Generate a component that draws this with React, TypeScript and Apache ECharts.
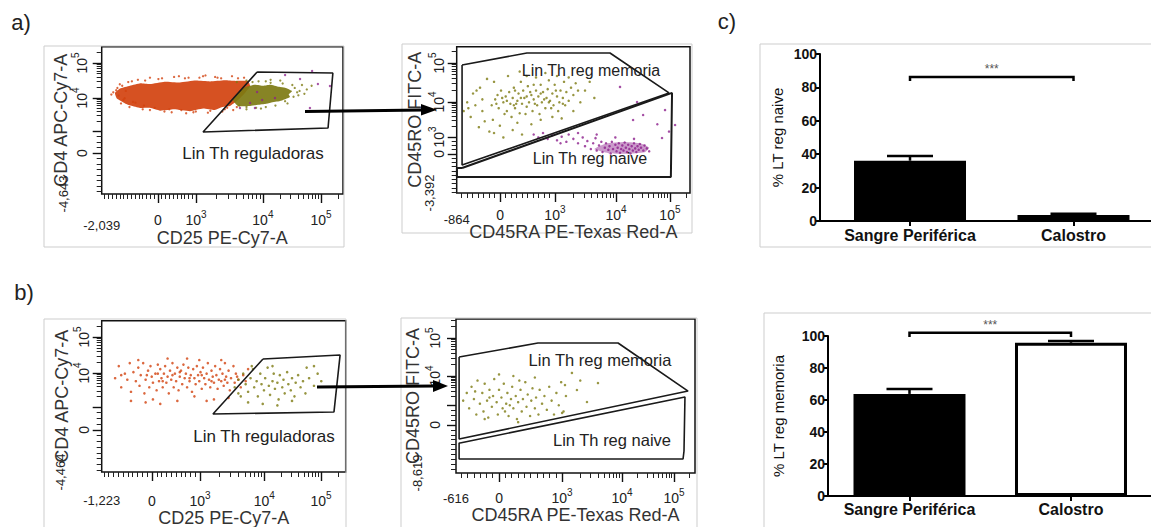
import React, { useEffect, useRef } from "react";
import * as echarts from "echarts";

const FONT = '"Liberation Sans", Arial, Helvetica, sans-serif';
const RED = "#d2420f";
const OLIVE = "#7d7a12";
const PURPLE = "#8c1f8c";

// ---- flow cytometry display axes (display channels 0..1000) ----
const A1_X = { min: "-2,039", zero: 233, d3: 391, d4: 668, d5: 909, show3: true };
const A1_Y = { min: "-4,643", zero: 278, d3: 428, d4: 652, d5: 889, show3: false };
const A2_X = { min: "-864", zero: 186, d3: 421, d4: 683, d5: 914, show3: true };
const A2_Y = { min: "-3,392", zero: 267, d3: 383, d4: 622, d5: 889, show3: true };
const B1_X = { min: "-1,223", zero: 206, d3: 403, d4: 666, d5: 899, show3: true };
const B1_Y = { min: "-4,464", zero: 278, d3: 430, d4: 654, d5: 892, show3: false };
const B2_X = { min: "-616", zero: 180, d3: 444, d4: 695, d5: 912, show3: true };
const B2_Y = { min: "-8,619", zero: 312, d3: 440, d4: 630, d5: 877, show3: false };

// ---- gates ----
const A1_GATE = [[644, 828], [958, 821], [938, 448], [420, 421], [644, 828]];
const A2_MEM = [[23, 875], [301, 957], [657, 957], [910, 684], [23, 191], [23, 875]];
const A2_NAIVE = [[23, 171], [923, 684], [918, 109], [1, 109], [1, 171], [23, 171]];
const B1_GATE = [[661, 747], [977, 773], [952, 397], [456, 383], [661, 747]];
const B2_MEM = [[13, 753], [343, 844], [678, 844], [971, 532], [13, 221], [13, 753]];
const B2_NAIVE = [[17, 195], [958, 494], [954, 143], [950, 91], [13, 91], [13, 195], [17, 195]];

// ---- events ----
const A1_RED_CLOUD = [[55, 686], [76, 716], [117, 735], [160, 752], [200, 746], [260, 762], [324, 757], [390, 770], [449, 764], [510, 772], [552, 768], [606, 767], [615, 733], [594, 686], [565, 638], [531, 597], [500, 590], [469, 570], [420, 580], [366, 562], [300, 575], [242, 566], [200, 585], [159, 584], [120, 600], [97, 615], [63, 648]];
const A1_RED_DOTS = [[48, 690], [60, 705], [70, 668], [85, 735], [95, 650], [110, 760], [130, 625], [150, 775], [175, 600], [200, 790], [220, 585], [250, 785], [280, 575], [300, 795], [330, 570], [360, 790], [390, 560], [420, 800], [450, 565], [480, 790], [510, 575], [540, 800], [520, 585], [560, 590], [590, 790], [100, 700], [140, 620], [260, 560], [380, 555], [470, 795], [65, 720], [90, 640], [200, 570], [320, 800], [430, 805], [40, 675], [75, 745], [125, 765], [180, 770], [235, 780], [345, 785], [405, 790], [495, 785], [565, 785], [80, 615], [115, 590], [170, 575], [290, 555], [350, 548], [440, 552], [500, 560], [545, 570]];
const A1_GREEN_CLOUD = [[544, 638], [560, 680], [594, 725], [635, 742], [670, 735], [698, 742], [735, 728], [760, 722], [789, 699], [775, 675], [780, 659], [739, 631], [700, 620], [677, 611], [640, 604], [615, 597], [565, 597]];
const A1_GREEN_DOTS = [[560, 760], [600, 770], [650, 765], [700, 755], [750, 750], [800, 720], [810, 690], [795, 660], [760, 630], [720, 600], [680, 590], [640, 585], [600, 590], [570, 600], [820, 700], [830, 740], [600, 575], [700, 775], [740, 770], [850, 710], [790, 740], [815, 670], [770, 615], [660, 580], [625, 760], [680, 765], [840, 680], [870, 735]];
const A1_PURPLE_DOTS = [[644, 692], [665, 638], [615, 618], [760, 808], [822, 781], [872, 835], [896, 747], [863, 584], [573, 584], [635, 584], [946, 733], [718, 652]];

const A2_GREEN_DOTS = [[150, 600], [165, 640], [180, 580], [190, 700], [200, 620], [210, 660], [215, 560], [225, 690], [230, 610], [240, 650], [245, 720], [250, 580], [260, 630], [265, 680], [270, 545], [280, 610], [285, 700], [290, 650], [300, 590], [305, 730], [310, 620], [320, 670], [325, 560], [330, 640], [340, 700], [345, 600], [350, 660], [360, 740], [365, 620], [370, 690], [380, 580], [385, 650], [390, 710], [400, 630], [410, 680], [415, 600], [420, 740], [430, 660], [440, 620], [445, 700], [455, 650], [460, 760], [470, 690], [480, 630], [490, 720], [500, 670], [510, 750], [520, 700], [175, 670], [205, 540], [235, 520], [275, 760], [295, 540], [355, 540], [395, 770], [435, 560], [195, 650], [255, 610], [315, 690], [375, 640], [465, 600], [405, 580], [30, 560], [45, 620], [60, 520], [70, 680], [80, 600], [95, 450], [100, 720], [110, 560], [120, 490], [130, 780], [140, 420], [155, 500], [160, 760], [185, 460], [220, 800], [240, 430], [260, 480], [270, 830], [300, 800], [320, 470], [340, 790], [360, 500], [380, 820], [410, 520], [430, 800], [450, 510], [480, 790], [500, 560], [530, 620], [550, 700], [570, 760], [590, 650], [110, 640], [85, 700], [50, 580], [200, 380], [280, 400], [160, 410], [170, 610], [215, 630], [250, 700], [275, 650], [335, 610], [360, 680], [395, 620], [425, 700], [455, 610], [300, 660], [245, 600], [330, 740]];
const A2_PURPLE_CORE = [[590, 300], [640, 338], [720, 348], [790, 338], [825, 310], [805, 278], [730, 268], [650, 272]];
const A2_PURPLE_DOTS = [[330, 400], [350, 380], [370, 410], [390, 370], [410, 395], [430, 360], [450, 385], [470, 350], [480, 400], [500, 370], [520, 340], [540, 380], [550, 320], [560, 355], [575, 300], [585, 340], [595, 375], [600, 290], [610, 325], [620, 350], [625, 280], [635, 310], [640, 340], [650, 295], [655, 320], [660, 270], [665, 350], [670, 300], [680, 330], [685, 285], [690, 310], [695, 340], [700, 275], [705, 300], [710, 325], [715, 290], [720, 345], [725, 310], [730, 280], [735, 330], [740, 300], [745, 270], [750, 320], [755, 290], [760, 340], [765, 305], [770, 280], [775, 320], [780, 295], [785, 335], [790, 310], [800, 290], [805, 325], [815, 305], [825, 285], [600, 400], [680, 380], [760, 370], [520, 410], [445, 340], [700, 725], [773, 622], [893, 567], [880, 376], [799, 533], [756, 499], [936, 465], [860, 470], [910, 420]];

const B1_RED_DOTS = [[55, 620], [70, 700], [80, 560], [95, 650], [105, 610], [115, 720], [120, 530], [130, 660], [140, 600], [150, 690], [155, 570], [160, 640], [170, 720], [175, 520], [180, 610], [190, 670], [195, 560], [200, 700], [205, 630], [210, 590], [220, 650], [225, 540], [230, 710], [235, 600], [240, 680], [245, 620], [250, 560], [255, 650], [260, 700], [265, 590], [270, 630], [275, 520], [280, 670], [285, 610], [290, 720], [295, 560], [300, 650], [305, 600], [310, 690], [315, 540], [320, 630], [325, 670], [330, 580], [335, 710], [340, 620], [345, 650], [350, 560], [355, 690], [360, 600], [365, 640], [370, 530], [375, 680], [380, 620], [385, 580], [390, 700], [395, 640], [400, 600], [405, 660], [410, 550], [415, 690], [420, 620], [425, 580], [430, 650], [435, 720], [440, 610], [445, 560], [450, 670], [455, 630], [460, 590], [465, 700], [470, 640], [475, 550], [480, 610], [485, 680], [490, 600], [495, 650], [500, 570], [505, 720], [510, 630], [515, 590], [520, 670], [525, 540], [530, 620], [540, 700], [545, 590], [550, 650], [560, 610], [570, 560], [580, 640], [590, 600], [600, 680], [120, 470], [180, 460], [240, 450], [310, 470], [350, 750], [400, 740], [460, 480], [270, 750], [520, 490], [210, 480], [150, 740], [80, 640], [380, 500], [430, 470], [490, 740], [185, 640], [250, 600], [320, 660], [360, 620], [410, 640], [450, 600], [505, 610], [555, 630], [290, 640], [230, 650]];
const B1_GREEN_DOTS = [[545, 560], [560, 610], [570, 500], [580, 650], [590, 580], [600, 530], [610, 620], [620, 680], [625, 560], [635, 600], [640, 500], [650, 650], [655, 580], [665, 540], [670, 620], [680, 690], [685, 570], [690, 510], [700, 600], [705, 650], [710, 550], [720, 590], [725, 480], [730, 640], [740, 560], [745, 610], [750, 520], [760, 660], [765, 580], [775, 540], [780, 620], [790, 500], [795, 590], [805, 640], [815, 560], [825, 600], [835, 520], [850, 620], [870, 570], [885, 650], [900, 600], [870, 700], [840, 690], [600, 460], [660, 450], [720, 440], [780, 470], [560, 520], [615, 700], [700, 700]];
const B2_GREEN_DOTS = [[30, 470], [45, 520], [55, 420], [65, 560], [75, 480], [85, 380], [90, 600], [100, 450], [110, 520], [115, 400], [120, 580], [130, 470], [135, 360], [140, 540], [150, 430], [155, 500], [160, 610], [170, 460], [175, 380], [180, 540], [190, 490], [195, 420], [200, 580], [210, 450], [215, 520], [220, 370], [230, 480], [235, 560], [240, 420], [250, 500], [255, 350], [260, 460], [270, 540], [275, 400], [280, 480], [290, 590], [295, 430], [300, 510], [310, 370], [315, 470], [320, 550], [330, 420], [335, 490], [345, 380], [350, 540], [360, 450], [370, 500], [380, 410], [390, 560], [400, 470], [410, 380], [420, 520], [430, 440], [440, 590], [450, 400], [460, 500], [180, 640], [240, 630], [120, 350], [260, 330], [330, 620], [80, 530], [205, 400], [265, 600], [140, 490], [225, 440], [456, 571], [506, 539], [594, 584], [548, 461], [444, 390], [520, 600], [485, 650]];

// ---- bar charts ----
const BAR_CATEGORIES = ["Sangre Periférica", "Calostro"];
const NAIVE_MEANS = [36.1, 3.6];
const NAIVE_UPPER = [38.9, 4.4];
const MEMORY_MEANS = [63.8, 95.8];
const MEMORY_UPPER = [66.9, 96.9];
const NAIVE_BRACKET = [0, 1, 86.2, 83.8];
const MEMORY_BRACKET = [0, 1, 102, 99.4];
const BAR_Y_TICKS = [0, 20, 40, 60, 80, 100];

function minorTicks(ax: any, nLin: number) {
  const out: number[] = [];
  const step = (ax.d3 - ax.zero) / nLin;
  for (let v = ax.zero - step; v > 2; v -= step) out.push(v);
  for (let k = 1; k < nLin; k++) out.push(ax.zero + k * step);
  const decs = [ax.d3, ax.d4, ax.d5];
  for (let i = 0; i < 2; i++)
    for (let k = 2; k <= 9; k++) out.push(decs[i] + (decs[i + 1] - decs[i]) * Math.log10(k));
  const w = ax.d5 - ax.d4;
  for (let k = 2; k <= 9; k++) {
    const v = ax.d5 + w * Math.log10(k);
    if (v < 998) out.push(v);
  }
  return out;
}

const rich = {
  b: { fontSize: 14, fontFamily: FONT, color: "#222", lineHeight: 18, verticalAlign: "bottom" },
  s: { fontSize: 10, fontFamily: FONT, color: "#222", lineHeight: 10, verticalAlign: "top" },
};

function flowAxes(ax: any, dim: "x" | "y", gridIndex: number, c: any) {
  const isY = dim === "y";
  const majors = [ax.zero, ax.d3, ax.d4, ax.d5];
  const labelVals = ax.show3 ? majors : [ax.zero, ax.d4, ax.d5];
  const fmt = (v: number) => {
    if (Math.abs(v - ax.zero) < 0.01) return "{b|0}";
    if (Math.abs(v - ax.d3) < 0.01) return "{b|10}{s|3}";
    if (Math.abs(v - ax.d4) < 0.01) return "{b|10}{s|4}";
    if (Math.abs(v - ax.d5) < 0.01) return "{b|10}{s|5}";
    return "";
  };
  const base = {
    type: "value",
    gridIndex,
    min: 0,
    max: 1000,
    position: isY ? "left" : "bottom",
    axisLine: { show: false },
    splitLine: { show: false },
  };
  const major = {
    ...base,
    axisTick: { show: true, customValues: majors, length: 9, lineStyle: { color: "#111", width: 1.4 } },
    axisLabel: {
      show: true,
      customValues: labelVals,
      margin: c.labelMargin,
      rotate: isY ? 90 : 0,
      formatter: fmt,
      rich,
      color: "#222",
      fontFamily: FONT,
    },
    name: c.title,
    nameLocation: "middle",
    nameGap: c.nameGap,
    nameRotate: isY ? 90 : 0,
    nameTextStyle: { fontSize: 18, color: "#333", fontFamily: FONT },
  };
  const minor = {
    ...base,
    axisTick: { show: true, customValues: minorTicks(ax, c.nLin), length: 5, lineStyle: { color: "#222", width: 1 } },
    axisLabel: {
      show: true,
      customValues: [0],
      margin: c.minMargin,
      rotate: isY ? 90 : 0,
      formatter: () => ax.min,
      fontSize: 13,
      color: "#222",
      fontFamily: FONT,
    },
  };
  return [major, minor];
}

function polygonSeries(points: number[][], idx: number, color: string, opacity: number, z: number) {
  return {
    type: "custom",
    xAxisIndex: idx,
    yAxisIndex: idx,
    data: points,
    z,
    silent: true,
    renderItem: (params: any, api: any) => {
      if (params.dataIndex !== 0) return null;
      const pts = points.map((p) => api.coord(p));
      return {
        type: "polygon",
        shape: { points: pts, smooth: 0.15 },
        style: { fill: color, opacity },
      };
    },
  };
}

function dots(points: number[][], idx: number, color: string, size: number, z = 3) {
  return {
    type: "scatter",
    xAxisIndex: idx,
    yAxisIndex: idx,
    data: points,
    symbolSize: size,
    itemStyle: { color },
    silent: true,
    z,
  };
}

function gate(points: number[][], idx: number, width = 1.6) {
  return {
    type: "line",
    xAxisIndex: idx,
    yAxisIndex: idx,
    data: points,
    symbol: "none",
    silent: true,
    lineStyle: { color: "#1a1a1a", width },
    z: 5,
  };
}

function barAxes(gridIndex: number, xmin: number, xmax: number, yName: string, nameGap: number, catMargin: number) {
  const x = {
    type: "value",
    gridIndex,
    min: xmin,
    max: xmax,
    position: "bottom",
    splitLine: { show: false },
    axisLine: { show: true, onZero: false, lineStyle: { color: "#000", width: 2 } },
    axisTick: { show: true, customValues: [0, 1], length: 5, lineStyle: { color: "#000", width: 2 } },
    axisLabel: {
      show: true,
      customValues: [0, 1],
      margin: catMargin,
      formatter: (v: number) => BAR_CATEGORIES[Math.round(v)] || "",
      fontSize: 16,
      fontWeight: "bold",
      color: "#111",
      fontFamily: FONT,
    },
  };
  const y = {
    type: "value",
    gridIndex,
    min: 0,
    max: 100,
    interval: 20,
    position: "left",
    splitLine: { show: false },
    axisLine: { show: true, onZero: false, lineStyle: { color: "#000", width: 2 } },
    axisTick: { show: true, length: 5, lineStyle: { color: "#000", width: 2 } },
    axisLabel: {
      show: true,
      customValues: BAR_Y_TICKS,
      margin: 3,
      fontSize: 14,
      fontWeight: "bold",
      color: "#111",
      fontFamily: FONT,
    },
    name: yName,
    nameLocation: "middle",
    nameGap,
    nameRotate: 90,
    nameTextStyle: { fontSize: 15, color: "#111", fontFamily: FONT },
  };
  return [x, y];
}

function barSeries(idx: number, means: number[], upper: number[], bracket: number[]) {
  const bars = {
    type: "bar",
    xAxisIndex: idx,
    yAxisIndex: idx,
    barWidth: 112,
    silent: true,
    data: means.map((m, i) => ({
      value: [i, m],
      itemStyle:
        i === 0
          ? { color: "#000", borderColor: "#000", borderWidth: 0 }
          : { color: "#fff", borderColor: "#000", borderWidth: 3 },
    })),
    z: 2,
  };
  const err = {
    type: "custom",
    xAxisIndex: idx,
    yAxisIndex: idx,
    clip: false,
    silent: true,
    data: means.map((m, i) => [i, m, upper[i]]),
    z: 4,
    renderItem: (_p: any, api: any) => {
      const a = api.coord([api.value(0), api.value(1)]);
      const b = api.coord([api.value(0), api.value(2)]);
      const st = { stroke: "#000", lineWidth: 2.5 };
      return {
        type: "group",
        children: [
          { type: "line", shape: { x1: a[0], y1: a[1], x2: b[0], y2: b[1] }, style: st },
          { type: "line", shape: { x1: b[0] - 23, y1: b[1], x2: b[0] + 23, y2: b[1] }, style: st },
        ],
      };
    },
  };
  const br = {
    type: "custom",
    xAxisIndex: idx,
    yAxisIndex: idx,
    clip: false,
    silent: true,
    data: [bracket],
    z: 4,
    renderItem: (_p: any, api: any) => {
      const a = api.coord([api.value(0), api.value(2)]);
      const b = api.coord([api.value(1), api.value(2)]);
      const f = api.coord([api.value(0), api.value(3)]);
      return {
        type: "group",
        children: [
          {
            type: "polyline",
            shape: { points: [[a[0], f[1]], [a[0], a[1]], [b[0], b[1]], [b[0], f[1]]] },
            style: { stroke: "#000", lineWidth: 2.5, fill: null },
          },
          {
            type: "text",
            style: {
              text: "***",
              x: (a[0] + b[0]) / 2,
              y: a[1] - 8,
              textAlign: "center",
              align: "center",
              textVerticalAlign: "middle",
              verticalAlign: "middle",
              font: "12px " + FONT,
              fill: "#555",
            },
          },
        ],
      };
    },
  };
  return [bars, err, br];
}

function txt(text: string, x: number, y: number, size: number, extra: any = {}) {
  return {
    type: "text",
    z: 10,
    style: {
      text,
      x,
      y,
      font: `${size}px ${FONT}`,
      fill: "#222",
      textAlign: "center",
      align: "center",
      textVerticalAlign: "middle",
      verticalAlign: "middle",
      ...extra,
    },
  };
}

function frame(x: number, y: number, w: number, h: number) {
  return {
    type: "rect",
    z: 0,
    shape: { x, y, width: w, height: h },
    style: { fill: "none", stroke: "#cdcdcd", lineWidth: 1 },
  };
}

function buildOption() {
  const gridBox = { show: true, borderColor: "#111", borderWidth: 1.5, backgroundColor: "transparent", containLabel: false, outerBoundsMode: "none" };
  const grid = [
    { ...gridBox, left: 101.7, top: 46.7, width: 241.3, height: 147.3 },
    { ...gridBox, left: 456.7, top: 46.7, width: 233.3, height: 146.3 },
    { ...gridBox, left: 101.7, top: 320.7, width: 244, height: 151.3 },
    { ...gridBox, left: 456, top: 319, width: 239, height: 154 },
    { show: false, left: 820, top: 54, width: 331, height: 167, containLabel: false, outerBoundsMode: "none" },
    { show: false, left: 828, top: 336, width: 323, height: 160, containLabel: false, outerBoundsMode: "none" },
  ];
  const [c1x, c1y] = barAxes(4, -0.5505, 1.474, "% LT reg naive", 35, 6);
  const [c2x, c2y] = barAxes(5, -0.5046, 1.4954, "% LT reg memoria", 42, 5);
  const xAxis = [
    ...flowAxes(A1_X, "x", 0, { title: "CD25 PE-Cy7-A", labelMargin: 15, minMargin: 25, nameGap: 35, nLin: 10 }),
    ...flowAxes(A2_X, "x", 1, { title: "CD45RA PE-Texas Red-A", labelMargin: 11, minMargin: 20, nameGap: 29, nLin: 10 }),
    ...flowAxes(B1_X, "x", 2, { title: "CD25 PE-Cy7-A", labelMargin: 18, minMargin: 22, nameGap: 31, nLin: 10 }),
    ...flowAxes(B2_X, "x", 3, { title: "CD45RA PE-Texas Red-A", labelMargin: 14, minMargin: 19, nameGap: 30, nLin: 10 }),
    c1x,
    c2x,
  ];
  const yAxis = [
    ...flowAxes(A1_Y, "y", 0, { title: "CD4 APC-Cy7-A", labelMargin: 13, minMargin: 32, nameGap: 28, nLin: 4 }),
    ...flowAxes(A2_Y, "y", 1, { title: "CD45RO FITC-A", labelMargin: 11, minMargin: 21, nameGap: 33, nLin: 4 }),
    ...flowAxes(B1_Y, "y", 2, { title: "CD4 APC-Cy7-A", labelMargin: 11, minMargin: 35, nameGap: 31, nLin: 4 }),
    ...flowAxes(B2_Y, "y", 3, { title: "CD45RO FITC-A", labelMargin: 14, minMargin: 32, nameGap: 34, nLin: 4 }),
    c1y,
    c2y,
  ];
  const series: any[] = [
    // a1
    polygonSeries(A1_RED_CLOUD, 0, RED, 0.92, 2),
    dots(A1_RED_DOTS, 0, RED, 2.3, 2),
    polygonSeries(A1_GREEN_CLOUD, 0, OLIVE, 0.92, 3),
    dots(A1_GREEN_DOTS, 0, OLIVE, 2.3, 3),
    dots(A1_PURPLE_DOTS, 0, PURPLE, 2.4, 4),
    gate(A1_GATE, 0),
    // a2
    dots(A2_GREEN_DOTS, 2, OLIVE, 2.5),
    polygonSeries(A2_PURPLE_CORE, 2, PURPLE, 0.45, 3),
    dots(A2_PURPLE_DOTS, 2, PURPLE, 2.5),
    gate(A2_MEM, 2),
    gate(A2_NAIVE, 2, 2),
    // b1
    dots(B1_RED_DOTS, 4, RED, 2.6),
    dots(B1_GREEN_DOTS, 4, OLIVE, 2.6),
    gate(B1_GATE, 4),
    // b2
    dots(B2_GREEN_DOTS, 6, OLIVE, 2.5),
    gate(B2_MEM, 6),
    gate(B2_NAIVE, 6),
    // bars
    ...barSeries(8, NAIVE_MEANS, NAIVE_UPPER, NAIVE_BRACKET),
    ...barSeries(9, MEMORY_MEANS, MEMORY_UPPER, MEMORY_BRACKET),
  ];
  const graphic = [
    frame(44, 46, 300, 201),
    frame(402, 44, 290, 189),
    frame(760, 44, 400, 203),
    frame(44, 319, 302, 220),
    frame(401, 318, 296, 220),
    frame(764, 313, 400, 220),
    txt("a)", 21, 22, 22),
    txt("b)", 24, 292, 22),
    txt("c)", 727, 21, 22),
    txt("Lin Th reguladoras", 253, 153, 17),
    txt("Lin Th reg memoria", 591, 70, 16),
    txt("Lin Th reg naive", 590, 158, 16),
    txt("Lin Th reguladoras", 264, 436, 17),
    txt("Lin Th reg memoria", 600, 360, 16.5),
    txt("Lin Th reg naive", 612, 440, 16.5),
    { type: "line", z: 10, shape: { x1: 305, y1: 111.5, x2: 424, y2: 110 }, style: { stroke: "#000", lineWidth: 3 } },
    { type: "polygon", z: 10, shape: { points: [[421, 104], [437, 109.7], [421, 115.5]] }, style: { fill: "#000" } },
    { type: "line", z: 10, shape: { x1: 317, y1: 387, x2: 435, y2: 386 }, style: { stroke: "#000", lineWidth: 3 } },
    { type: "polygon", z: 10, shape: { points: [[433, 380], [448, 386], [433, 392]] }, style: { fill: "#000" } },
  ];
  return { animation: false, backgroundColor: "#fff", grid, xAxis, yAxis, series, graphic };
}

export default function App() {
  const ref = useRef<HTMLDivElement>(null);
  useEffect(() => {
    if (!ref.current) return;
    const chart = echarts.init(ref.current, null, { renderer: "svg" });
    chart.setOption(buildOption() as any);
    return () => chart.dispose();
  }, []);
  return (
    <div
      ref={ref}
      style={{ position: "absolute", left: 0, top: 0, width: 1151, height: 527, background: "#fff" }}
    />
  );
}
